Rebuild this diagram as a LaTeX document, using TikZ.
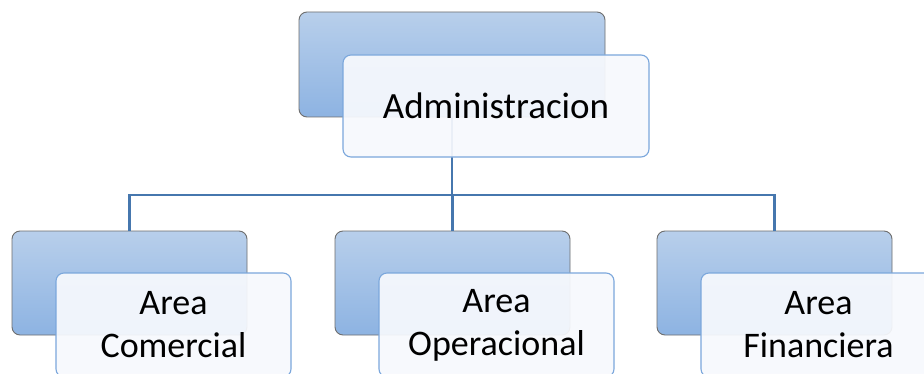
\documentclass[tikz,border=0pt]{standalone}
\usepackage{fontspec}
\setmainfont{Carlito}
\usetikzlibrary{positioning}
\definecolor{boxtop}{HTML}{B8CFEB}
\definecolor{boxbottom}{HTML}{8DB3E2}
\definecolor{boxline}{HTML}{6E6E6E}
\definecolor{cardline}{HTML}{7BA7DC}
\definecolor{cardfill}{HTML}{F7F9FD}
\definecolor{linkline}{HTML}{4677AE}

\begin{document}
\begin{tikzpicture}[x=1pt, y=1pt]
  % Set the box styles
  \tikzset{
    backbox/.style={draw=boxline, line width=0.9pt, rounded corners=8pt,
      top color=boxtop, bottom color=boxbottom,
      minimum width=235pt, minimum height=104pt, inner sep=0pt},
    frontbox/.style={draw=cardline, line width=1.1pt, rounded corners=8pt,
      fill=cardfill, fill opacity=0.93, text opacity=1,
      minimum width=235pt, minimum height=104pt, inner sep=0pt,
      align=center, font=\fontsize{36}{43}\selectfont},
    link/.style={draw=linkline, line width=2.6pt}
  }
  \fill[white] (0,0) rectangle (924,373);
  \useasboundingbox (0,0) rectangle (924,373);
  \clip (0,0) rectangle (924,373);

  % Draw the back boxes
  \node[backbox, minimum width=306pt, minimum height=105pt] (admin) at (452,308.5) {};
  \foreach \i/\x in {com/129.5,ope/452.5,fin/774.5}{
    \node[backbox] (\i) at (\x,90) {};
  }

  % Connect the boxes
  \coordinate (bus) at (452,178);
  \draw[link] (admin.south) -- (bus);
  \foreach \i in {com,ope,fin}{
    \draw[link] (bus) -| (\i.north);
  }

  % Draw the front boxes with the texts
  \node[frontbox, minimum width=306pt, minimum height=102pt, font=\fontsize{37}{43}\selectfont]
    (adminfront) at ([shift={(44,-41.5)}]admin.center) {Administracion};
  \foreach \i/\label in {com/Area\\Comercial,ope/Area\\Operacional,fin/Area\\Financiera}{
    \node[frontbox] (\i front) at ([shift={(44,-42)}]\i.center) {\label};
  }
\end{tikzpicture}
\end{document}
